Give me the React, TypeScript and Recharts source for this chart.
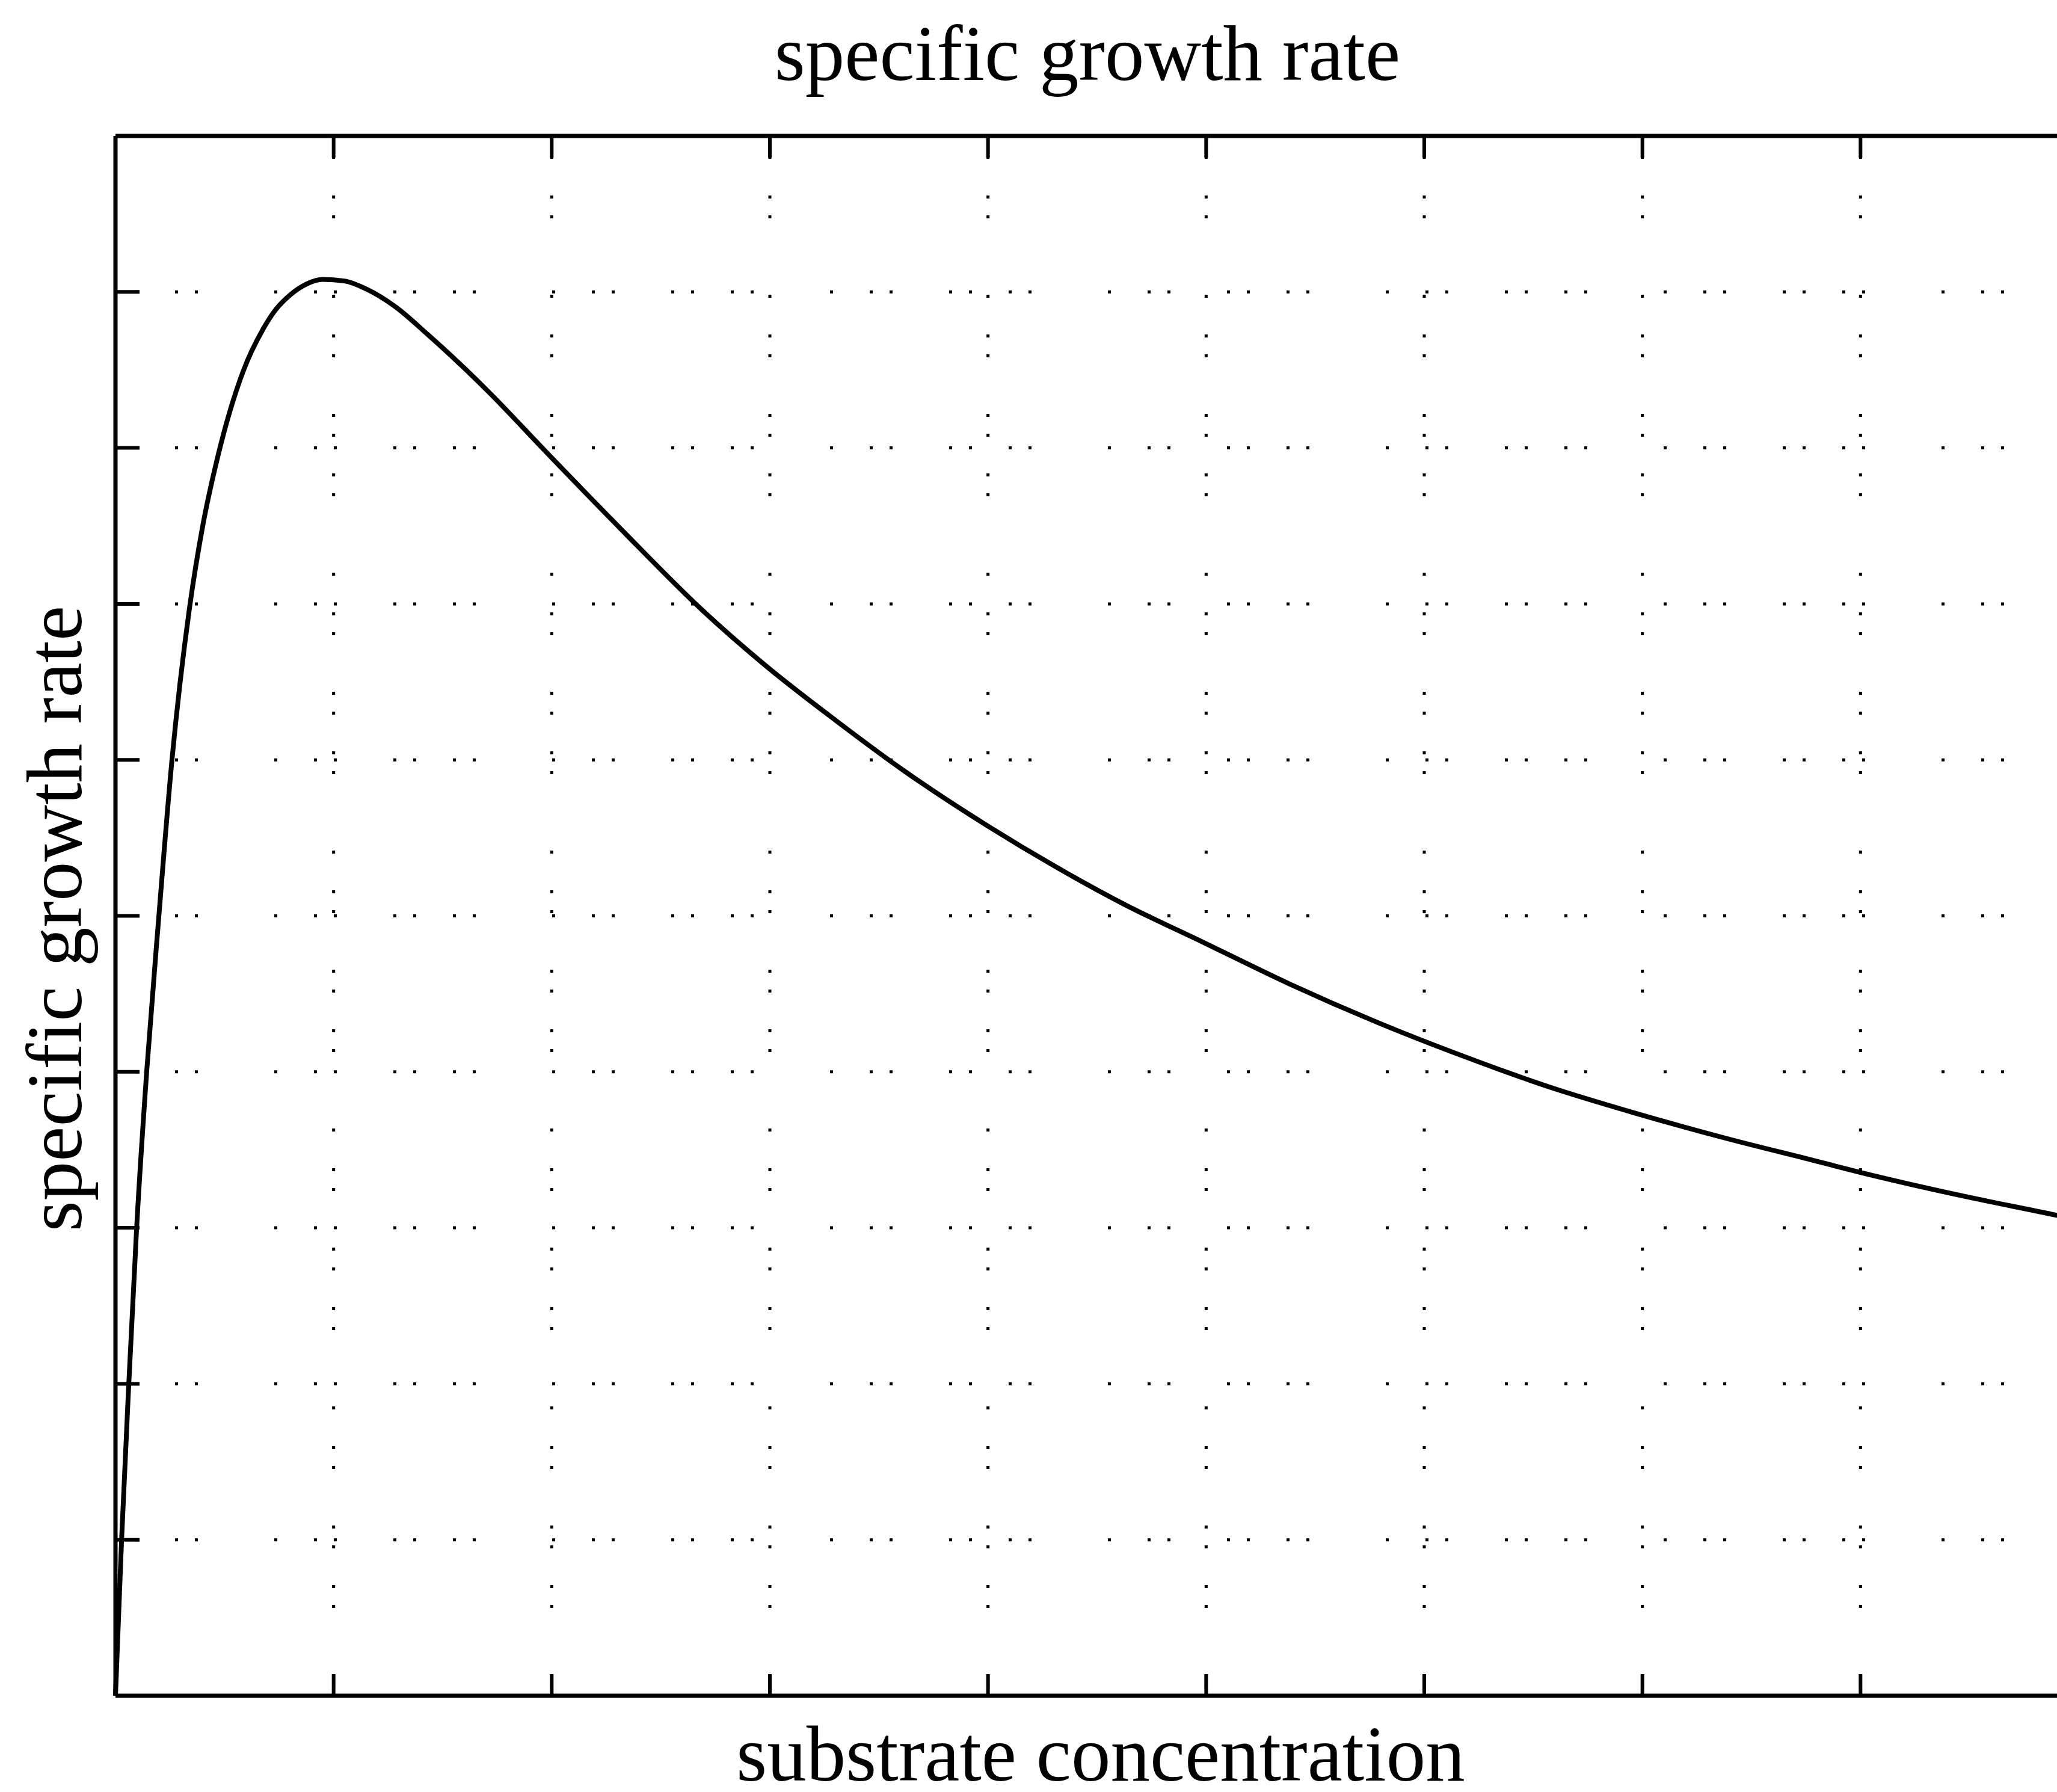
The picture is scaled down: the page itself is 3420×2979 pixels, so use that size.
import { LineChart, Line, XAxis, YAxis, CartesianGrid } from 'recharts'

// substrate concentration (x) and specific growth rate (y)
const substrate = [
  0, 0.028, 0.061, 0.097, 0.143, 0.199, 0.259, 0.342, 0.4, 0.47, 0.585, 0.676,
  0.731, 0.8, 0.875, 0.95, 1.05, 1.148, 1.288, 1.429, 1.57, 1.71, 1.97, 2.31,
  2.69, 2.98, 3.3, 3.62, 4.0, 4.31, 4.63, 4.98, 5.38, 5.78, 6.18, 6.58, 6.98,
  7.38, 7.79, 8.0, 8.45, 8.9, 9.0,
]
const growthRate = [
  0, 1, 2, 3, 4, 5, 6, 7, 7.5, 7.95, 8.49, 8.76,
  8.88, 8.98, 9.05, 9.08, 9.07, 9.02, 8.9, 8.73, 8.55, 8.36, 7.98, 7.49,
  6.96, 6.605, 6.255, 5.925, 5.575, 5.315, 5.07, 4.835, 4.565, 4.32, 4.1, 3.9, 3.73,
  3.575, 3.43, 3.355, 3.21, 3.08, 3.05,
]
const xTicks = [0, 1, 2, 3, 4, 5, 6, 7, 8, 9]
const yTicks = [0, 1, 2, 3, 4, 5, 6, 7, 8, 9, 10]

const title = 'specific growth rate'
const xLabel = 'substrate concentration'
const yLabel = 'specific growth rate'

const data = substrate.map((s, i) => ({ s, mu: growthRate[i] }))

const FONT = '"Liberation Serif", "Times New Roman", serif'
const W = 3480
const H = 2979
const TICK = 36
// dotted grid with dropped-out dots like the scanned original
const DOTS = '5 28 5 61 5 28 5 127 5 61 5 28 5 94'

const axisLine = { stroke: '#000', strokeWidth: 7 }
const tickLine = { stroke: '#000', strokeWidth: 6 }
// no tick labels on this plot, only the inward tick marks
const noLabel = () => <g />

export default function App() {
  return (
    <div
      style={{
        position: 'absolute',
        left: 0,
        top: 0,
        width: 3420,
        height: H,
        overflow: 'hidden',
        background: '#fff',
      }}
    >
      <LineChart
        width={W}
        height={H}
        data={data}
        margin={{ top: 226, right: 24, bottom: 160, left: 192 }}
      >
        <CartesianGrid
          stroke="#000"
          strokeWidth={5}
          strokeDasharray={DOTS}
          horizontalValues={yTicks}
          verticalValues={xTicks}
        />
        <XAxis
          type="number"
          dataKey="s"
          domain={[0, 9]}
          ticks={xTicks}
          interval={0}
          height={1}
          mirror
          tick={noLabel}
          tickSize={TICK}
          axisLine={axisLine}
          tickLine={tickLine}
        />
        <XAxis
          xAxisId="top"
          orientation="top"
          type="number"
          dataKey="s"
          domain={[0, 9]}
          ticks={xTicks}
          interval={0}
          height={1}
          mirror
          tick={noLabel}
          tickSize={TICK}
          axisLine={axisLine}
          tickLine={tickLine}
        />
        <YAxis
          type="number"
          domain={[0, 10]}
          ticks={yTicks}
          interval={0}
          width={1}
          mirror
          tick={noLabel}
          tickSize={TICK + 4}
          axisLine={axisLine}
          tickLine={tickLine}
        />
        <YAxis
          yAxisId="right"
          orientation="right"
          type="number"
          domain={[0, 10]}
          ticks={yTicks}
          interval={0}
          width={1}
          mirror
          tick={noLabel}
          tickSize={TICK + 4}
          axisLine={axisLine}
          tickLine={tickLine}
        />
        <Line
          type="monotone"
          dataKey="mu"
          stroke="#000"
          strokeWidth={8}
          dot={false}
          activeDot={false}
          isAnimationActive={false}
        />
      </LineChart>
      <svg
        width={3420}
        height={H}
        style={{ position: 'absolute', left: 0, top: 0, pointerEvents: 'none' }}
      >
        <text x={1808} y={133} textAnchor="middle" fontFamily={FONT} fontSize={131} fill="#000">
          {title}
        </text>
        <text x={1830} y={2960} textAnchor="middle" fontFamily={FONT} fontSize={131} fill="#000">
          {xLabel}
        </text>
        <text
          transform="translate(135,1527) rotate(-90)"
          textAnchor="middle"
          fontFamily={FONT}
          fontSize={131}
          fill="#000"
        >
          {yLabel}
        </text>
      </svg>
    </div>
  )
}
